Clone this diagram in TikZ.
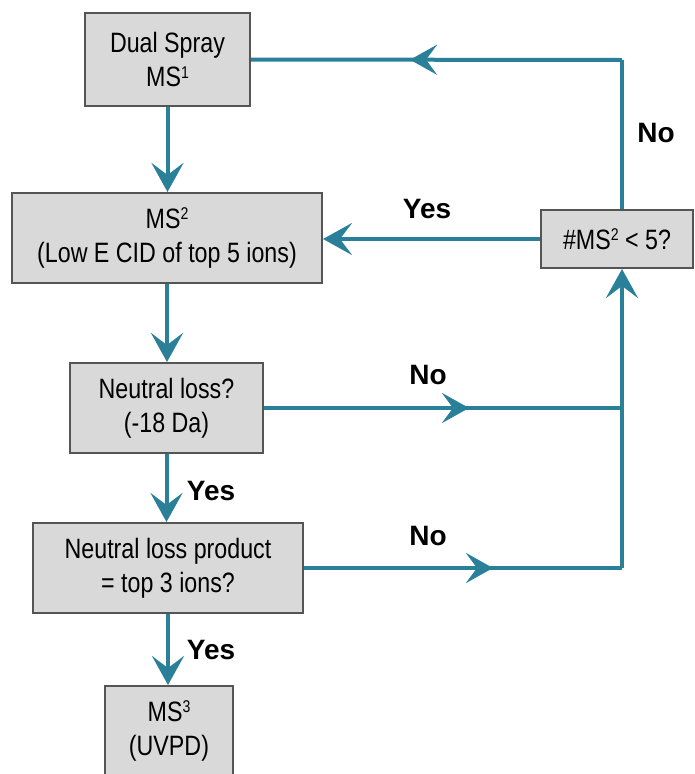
\documentclass[tikz,border=0pt]{standalone}
\usepackage{fontspec}
\setmainfont{Liberation Sans}
\newfontfamily\boxfont[FakeStretch=0.83]{Liberation Sans}
\usetikzlibrary{arrows.meta,decorations.markings}
\definecolor{teal1}{RGB}{42,128,153}
\definecolor{boxfill}{RGB}{217,217,217}
\definecolor{boxline}{RGB}{85,85,85}
\newcommand\mysup[1]{\raisebox{8.5pt}{\fontsize{17}{17}\selectfont #1}}
\begin{document}
\begin{tikzpicture}[x=1pt,y=-1pt,
 box/.style={draw=boxline,fill=boxfill,line width=2pt,align=center,
   font=\boxfont\fontsize{28}{34}\selectfont,inner sep=0pt},
 conn/.style={draw=teal1,line width=4pt},
 tip/.style={-{Stealth[length=29pt,width=32pt,inset=12pt]}},
 marr/.style={postaction={decorate},decoration={markings,
   mark=at position #1 with {\arrow{Stealth[length=27pt,width=30pt,inset=11pt,color=teal1]}}}},
 lbl/.style={font=\fontsize{28}{30}\selectfont\bfseries,inner sep=0pt}]
\useasboundingbox (0,0) rectangle (694,774);
% boxes
\node[box,minimum width=165pt,minimum height=93pt] (n1) at (167.5,59.5) {Dual Spray\\MS\mysup{1}};
\node[box,minimum width=310pt,minimum height=90pt] (n2) at (167,238) {MS\mysup{2}\\(Low E CID of top 5 ions)};
\node[box,minimum width=193pt,minimum height=90pt] (n3) at (166.5,408) {Neutral loss?\\(-18 Da)};
\node[box,minimum width=270pt,minimum height=90pt] (n4) at (168,568) {Neutral loss product\\= top 3 ions?};
\node[box,minimum width=128pt,minimum height=90pt] (n5) at (169,731) {MS\mysup{3}\\(UVPD)};
\node[box,minimum width=152pt,minimum height=58pt] (n6) at (617,239) {\#MS\mysup{2} < 5?};
% junctions
\coordinate (ja) at (622,408);
\coordinate (jb) at (622,568);
\coordinate (tc) at (622,60);
% vertical flow
\draw[conn,tip] (n1.south) -- (n1.south |- n2.north);
\draw[conn,tip] (n2.south) -- (n2.south |- n3.north);
\draw[conn,tip] (n3.south) -- (n3.south |- n4.north);
\draw[conn,tip] (n4.south) -- (n4.south |- n5.north);
% No branches
\draw[conn,marr=205pt] (n3.east) -- (ja);
\draw[conn,marr=189pt] (n4.east) -- (jb);
\draw[conn,tip] (jb) -- (n6.south -| jb);
% Yes back to MS2
\draw[conn,tip] (n6.west) -- (n6.west -| n2.east);
% No back to top
\draw[conn] (n6.north -| tc) -- (tc);
\draw[conn,marr=212pt] (tc) -- (n1.east);
% labels
\node[lbl] (l1) at (656,133) {No};
\node[lbl] (l2) at (427,209) {Yes};
\node[lbl] (l3) at (428,375) {No};
\node[lbl] (l4) at (428,536) {No};
\node[lbl] (l5) at (211,491) {Yes};
\node[lbl] (l6) at (211,650) {Yes};
\end{tikzpicture}
\end{document}
